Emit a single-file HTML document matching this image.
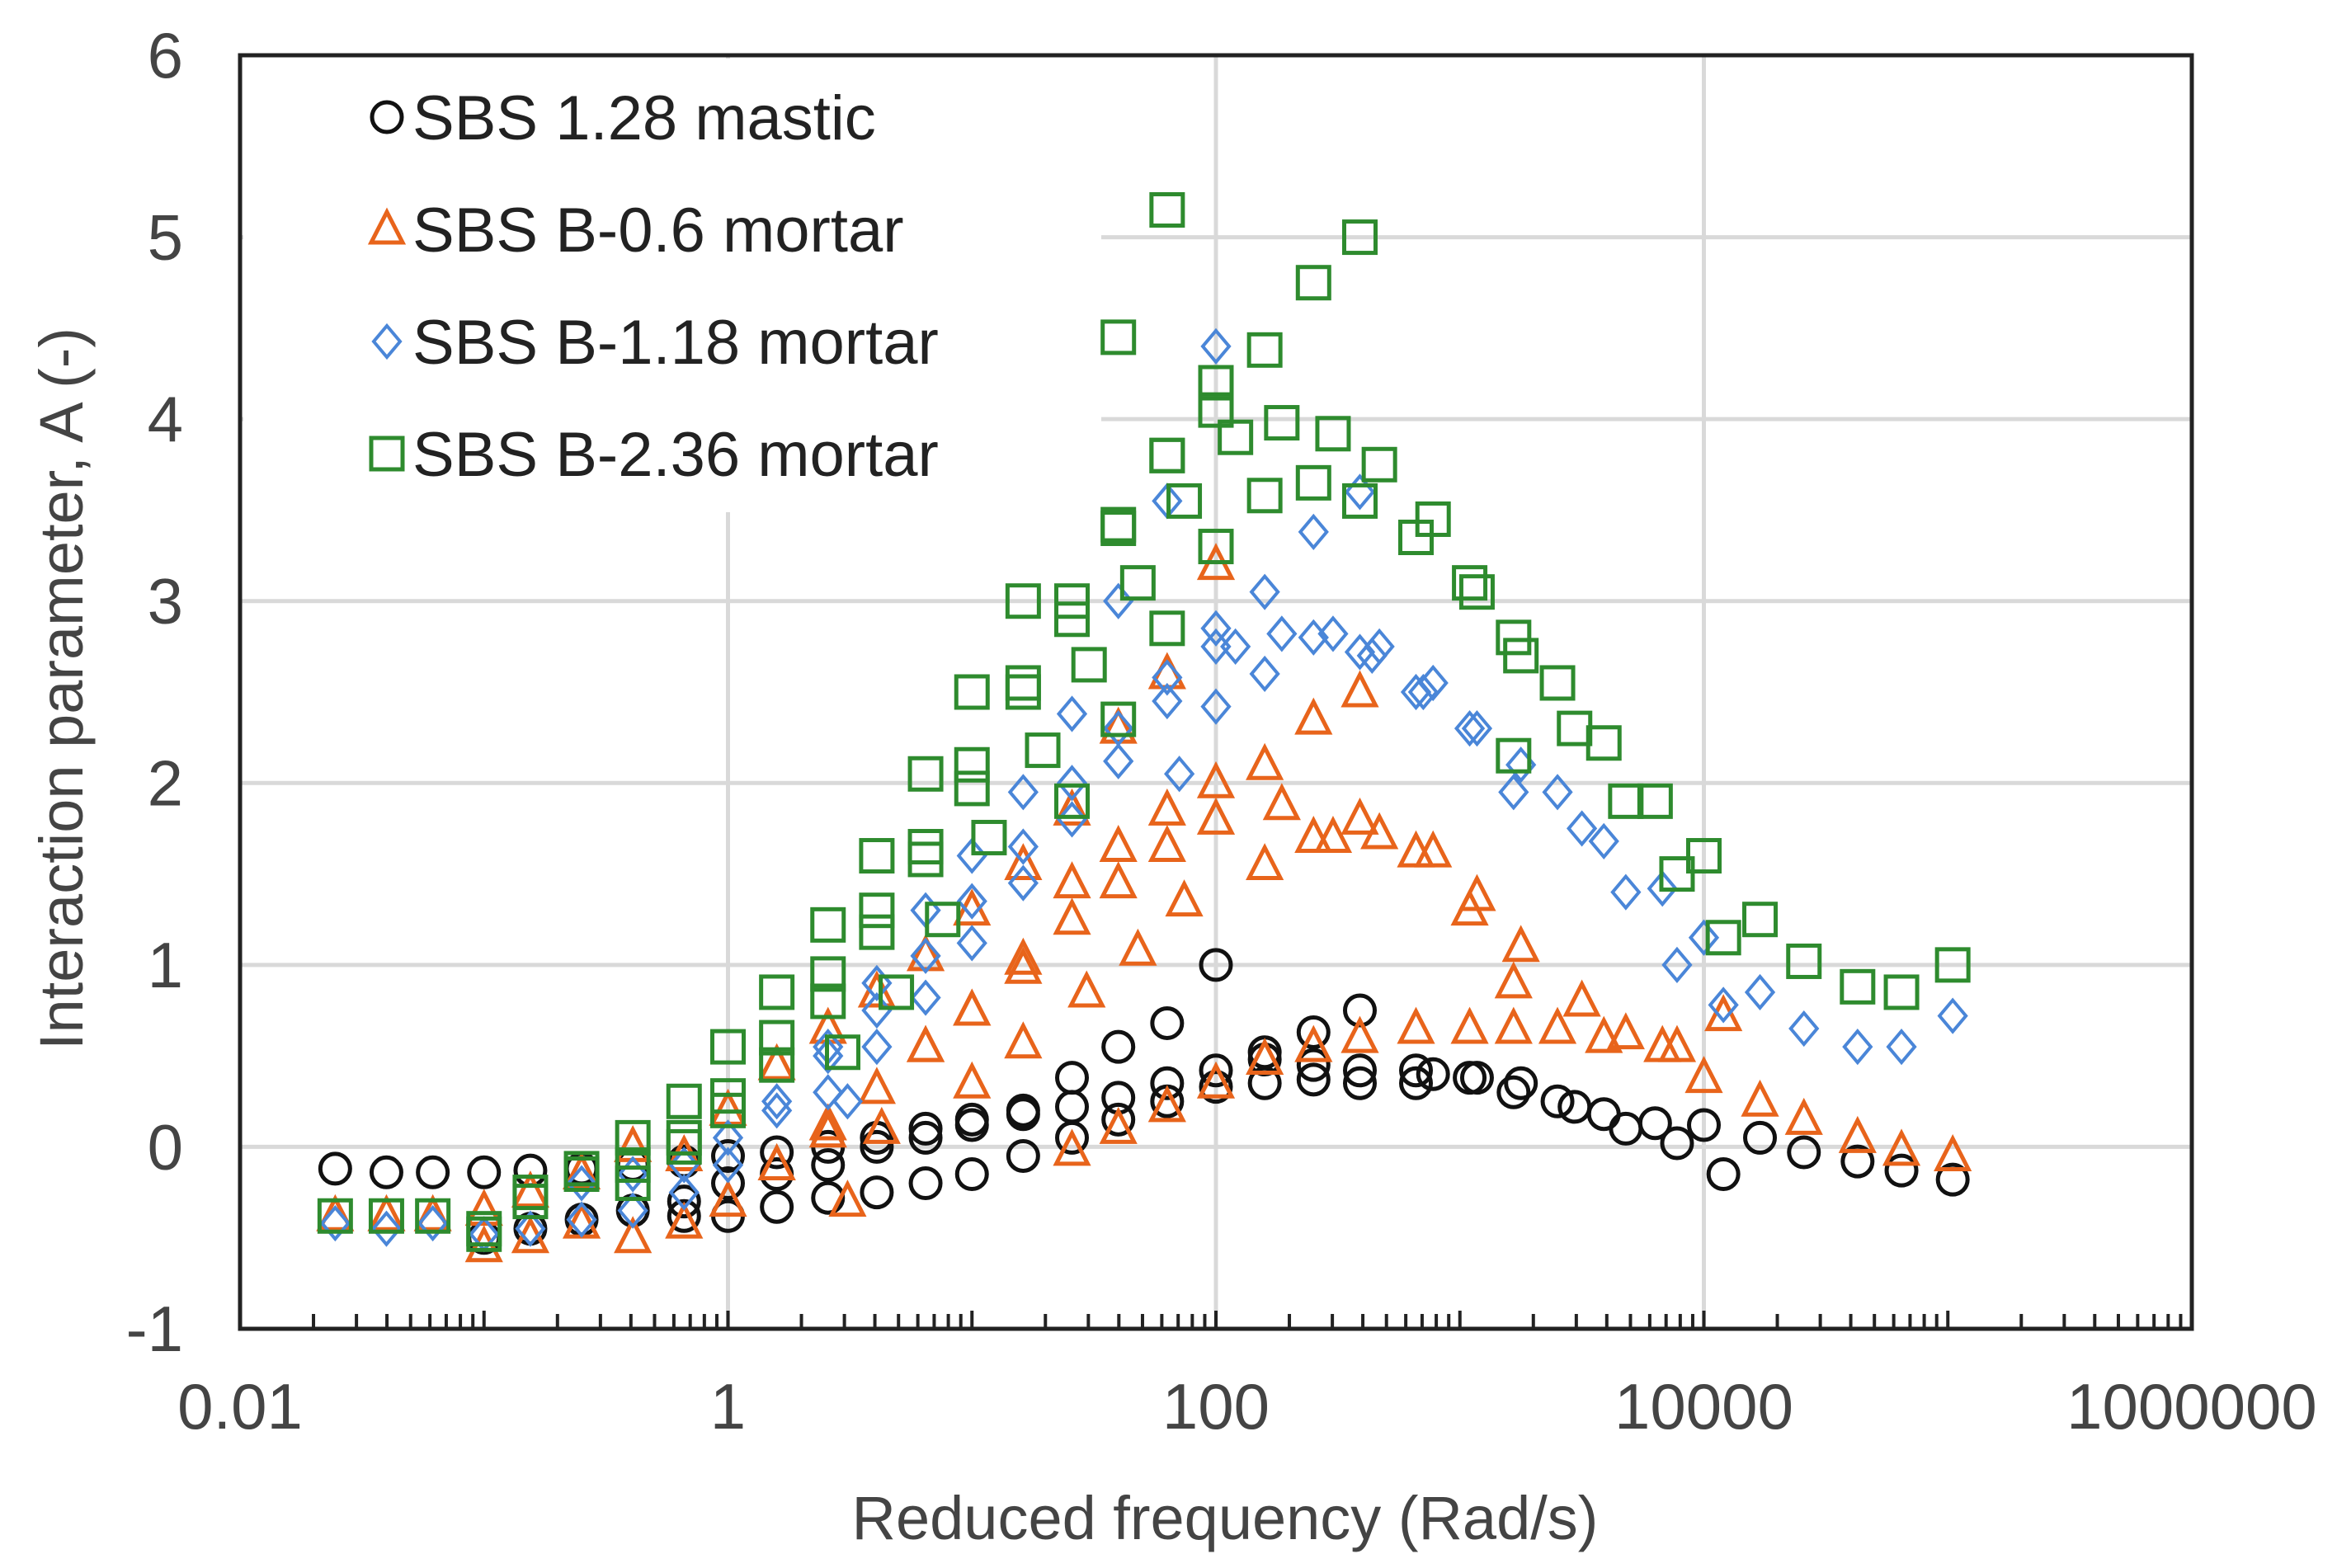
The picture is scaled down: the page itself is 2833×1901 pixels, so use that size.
<!DOCTYPE html>
<html><head><meta charset="utf-8"><style>
html,body{margin:0;padding:0;background:#fff;}
svg{display:block;font-family:"Liberation Sans",sans-serif;}
</style></head><body>
<svg id="chart" width="2833" height="1901" viewBox="0 0 2833 1901" xmlns="http://www.w3.org/2000/svg">
<rect width="2833" height="1901" fill="#fff"/>
<g id="grid"></g>
<g id="marks"></g>
<g id="axes"></g>
<g id="legend"></g>
<text x="1485" y="1866" font-size="74" text-anchor="middle" fill="#444">Reduced frequency (Rad/s)</text>
<text transform="translate(100,835) rotate(-90)" font-size="74" text-anchor="middle" fill="#444">Interaction parameter, A (-)</text>
</svg>
<script>
const xTickLabels = ["0.01","1","100","10000","1000000"];
const xTickLogs = [-2,0,2,4,6];
const yTickValues = [-1,0,1,2,3,4,5,6];
const seriesNames = ["SBS 1.28 mastic","SBS B-0.6 mortar","SBS B-1.18 mortar","SBS B-2.36 mortar"];
// [log10 frequency, A]
const masticPts = [[-1.61,-0.12],[-1.40,-0.14],[-1.21,-0.14],[-1.00,-0.14],[-0.81,-0.13],[-0.60,-0.12],[-0.39,-0.1],[-0.18,-0.08],[0.00,-0.05],[0.20,-0.03],[0.41,0],[0.61,0.05],[0.81,0.1],[1.00,0.15],[1.21,0.2],[1.41,0.38],[1.60,0.55],[1.80,0.68],[2.00,1.0],[2.20,0.52],[2.40,0.63],[2.59,0.75],
[-1.00,-0.5],[-0.81,-0.45],[-0.60,-0.4],[-0.39,-0.35],[-0.18,-0.38],[0.00,-0.38],[0.20,-0.33],[0.41,-0.28],[0.61,-0.25],[0.81,-0.2],[1.00,-0.15],[1.21,-0.05],[1.41,0.05],[1.60,0.15],[1.80,0.25],[2.00,0.33],[2.20,0.35],[2.40,0.37],[2.59,0.35],[2.82,0.35],
[-0.18,-0.3],[0.00,-0.2],[0.20,-0.15],[0.41,-0.1],[0.61,0],[0.81,0.05],[1.00,0.12],[1.21,0.18],[1.41,0.22],[1.60,0.27],[1.80,0.35],[2.00,0.42],[2.20,0.48],[2.40,0.45],[2.59,0.42],[2.82,0.42],[3.04,0.38],[3.22,0.3],[3.40,0.25],[3.59,0.18],[3.80,0.13],[3.89,0.02],[4.00,0.12],[4.08,-0.15],[4.23,0.05],[4.41,-0.03],[4.63,-0.08],[4.81,-0.13],[5.02,-0.18],
[2.89,0.4],[3.07,0.38],[3.25,0.35],[3.47,0.22],[3.68,0.1]];
const mortar06Pts = [[-1.61,-0.38],[-1.40,-0.38],[-1.21,-0.38],[-1.00,-0.55],[-0.81,-0.5],[-0.60,-0.42],[-0.39,-0.5],[-0.18,-0.42],[0.00,-0.3],[0.20,-0.1],[0.41,0.08],[0.61,0.32],[0.81,0.55],[1.00,0.75],[1.21,0.98],[1.41,1.25],[1.60,1.45],[1.80,1.65],[2.00,1.8],[2.20,1.55],[2.40,1.7],[2.59,1.8],[2.67,1.72],
[-1.00,-0.35],[-0.81,-0.25],[-0.60,-0.15],[-0.39,0],[-0.18,-0.05],[0.00,0.2],[0.20,0.45],[0.41,0.65],[0.61,0.85],[0.81,1.05],[1.00,1.3],[1.21,1.55],[1.41,1.85],[1.60,2.3],[1.80,2.6],[2.00,3.2],
[0.20,-0.1],[0.41,0.12],[0.49,-0.3],[0.63,0.1],[0.81,0.55],[1.00,0.75],[1.21,1.03],[1.41,1.45],[1.60,1.65],[1.80,1.85],[2.00,2.0],[2.20,2.1],[2.40,2.35],[2.59,2.5],
[1.00,0.35],[1.21,0.57],[1.41,-0.02],[1.47,0.85],[1.60,0.1],[1.68,1.08],[1.80,0.22],[1.87,1.35],[2.00,0.35],[2.20,0.48],[2.40,0.55],[2.59,0.6],[2.82,0.65],[3.04,0.65],[3.22,0.65],[3.40,0.65],[3.50,0.8],[3.59,0.6],[3.68,0.62],[3.83,0.55],[3.89,0.55],[4.00,0.38],[4.08,0.72],[4.23,0.25],[4.41,0.15],[4.63,0.05],[4.81,-0.02],[5.02,-0.05],
[2.27,1.88],[2.48,1.7],[2.82,1.62],[2.89,1.62],[3.04,1.3],[3.07,1.38],[3.22,0.9],[3.25,1.1]];
const mortar118Pts = [[-1.61,-0.42],[-1.40,-0.45],[-1.21,-0.42],[-1.00,-0.48],[-0.81,-0.45],[-0.60,-0.4],[-0.39,-0.35],[-0.18,-0.25],[0.00,-0.1],[0.20,0.2],[0.41,0.55],[0.61,0.9],[0.81,1.3],[1.00,1.6],[1.21,1.95],[1.41,2.38],[1.60,3.0],[1.80,3.55],[2.00,4.4],
[-0.60,-0.2],[-0.39,-0.15],[-0.18,-0.1],[0.00,0.05],[0.20,0.25],[0.41,0.5],[0.61,0.75],[0.81,1.05],[1.00,1.35],[1.21,1.65],[1.41,2.0],[1.60,2.3],[1.80,2.58],[2.00,2.85],[2.20,3.05],[2.40,3.38],[2.59,3.6],
[0.41,0.3],[0.49,0.25],[0.61,0.55],[0.81,0.82],[1.00,1.12],[1.21,1.45],[1.41,1.8],[1.60,2.12],[1.80,2.45],[2.00,2.75],[2.20,2.6],[2.40,2.8],[2.59,2.72],[2.67,2.75],[2.82,2.5],[2.89,2.55],[3.04,2.3],[3.07,2.3],[3.22,1.95],[3.25,2.1],[3.40,1.95],[3.50,1.75],[3.59,1.68],[3.68,1.4],[3.83,1.42],[3.89,1.0],[4.00,1.15],[4.08,0.78],[4.23,0.85],[4.41,0.65],[4.63,0.55],[4.81,0.55],[5.02,0.72],
[1.85,2.05],[2.00,2.42],[2.08,2.75],[2.27,2.82],[2.48,2.82],[2.64,2.7],[2.85,2.5]];
const mortar236Pts = [[-1.61,-0.38],[-1.40,-0.38],[-1.21,-0.38],[-1.00,-0.48],[-0.81,-0.3],[-0.60,-0.15],[-0.39,0.05],[-0.18,0.25],[0.00,0.55],[0.20,0.85],[0.41,1.22],[0.61,1.6],[0.81,2.05],[1.00,2.5],[1.21,3.0],[1.41,3.0],[1.60,3.4],[1.80,3.8],[2.00,4.2],
[-1.00,-0.45],[-0.81,-0.25],[-0.60,-0.12],[-0.39,-0.1],[-0.18,0.05],[0.00,0.28],[0.20,0.6],[0.41,0.95],[0.61,1.3],[0.81,1.65],[1.00,2.1],[1.21,2.55],[1.41,2.9],[1.60,3.42],[1.80,3.8],[2.00,4.05],[2.20,4.38],[2.40,4.75],[2.59,5.0],
[1.60,4.45],[1.80,5.15],
[-0.39,-0.2],[-0.18,0],[0.00,0.2],[0.20,0.45],[0.41,0.8],[0.47,0.52],[0.61,1.18],[0.69,0.85],[0.81,1.58],[0.88,1.25],[1.00,1.97],[1.07,1.7],[1.21,2.5],[1.29,2.18],[1.41,1.9],[1.48,2.65],[1.60,2.35],[1.68,3.1],[1.80,2.85],[1.87,3.55],[2.00,3.3],[2.08,3.9],[2.20,3.58],[2.27,3.98],[2.40,3.65],[2.48,3.92],[2.59,3.55],[2.67,3.75],[2.82,3.35],[2.89,3.45],[3.04,3.1],[3.07,3.05],[3.22,2.8],[3.25,2.7],[3.40,2.55],[3.47,2.3],[3.59,2.22],[3.68,1.9],[3.80,1.9],[3.89,1.5],[4.00,1.6],[4.08,1.15],[4.23,1.25],[4.41,1.02],[4.63,0.88],[4.81,0.85],[5.02,1.0],[3.22,2.15]];

const NS='http://www.w3.org/2000/svg';
const L=291,R=2657,T=67,B=1611;
const xMinLog=-2,xMaxLog=6,yMin=-1,yMax=6;
function xs(lg){return L+(lg-xMinLog)/(xMaxLog-xMinLog)*(R-L);}
function ys(v){return B-(v-yMin)/(yMax-yMin)*(B-T);}
function mk(tag,attrs,parent){const e=document.createElementNS(NS,tag);for(const k in attrs)e.setAttribute(k,attrs[k]);parent.appendChild(e);return e;}
const grid=document.getElementById('grid'),marks=document.getElementById('marks'),axes=document.getElementById('axes'),legend=document.getElementById('legend');

yTickValues.forEach(v=>{
  if(v>yMin&&v<yMax){const g=mk('line',{x1:L,x2:R,y1:ys(v),y2:ys(v),stroke:'#d9d9d9','stroke-width':5},grid);
  
  }
  const t=mk('text',{x:222,y:ys(v)+27,'font-size':78,'text-anchor':'end',fill:'#444'},axes);
  t.textContent=String(v);
  
  
});
xTickLogs.forEach((lg,i)=>{
  if(lg>xMinLog&&lg<xMaxLog){const g=mk('line',{x1:xs(lg),x2:xs(lg),y1:T,y2:B,stroke:'#d9d9d9','stroke-width':5},grid);
  
  }
  const t=mk('text',{x:xs(lg),y:1732,'font-size':78,'text-anchor':'middle',fill:'#444'},axes);
  t.textContent=xTickLabels[i];
  
  
});
for(let d=xMinLog;d<xMaxLog;d++){for(let m=1;m<10;m++){const lg=d+Math.log10(m);
  const tk=mk('line',{x1:xs(lg),x2:xs(lg),y1:B,y2:B-(m===1?22:18),stroke:'#222','stroke-width':4},axes);
  
  }}
const lb=mk('rect',{x:L+4,y:T+4,width:1040,height:550,fill:'#fff'},grid.parentNode);


grid.parentNode.insertBefore(lb,marks);

function marker(type,x,y,parent){
  let e;
  if(type==='circle'){e=mk('circle',{cx:x,cy:y,r:18,fill:'none',stroke:'#111','stroke-width':5},parent);}
  else if(type==='tri'){e=mk('polygon',{points:`${x},${y-21} ${x-19},${y+16} ${x+19},${y+16}`,fill:'none',stroke:'#e8641b','stroke-width':5},parent);}
  else if(type==='dia'){e=mk('polygon',{points:`${x},${y-19} ${x+16},${y} ${x},${y+19} ${x-16},${y}`,fill:'none',stroke:'#4a86d8','stroke-width':4},parent);}
  else {e=mk('rect',{x:x-19,y:y-19,width:38,height:38,fill:'none',stroke:'#2e8b2e','stroke-width':5},parent);}
  return e;
}
const series=[[masticPts,'circle','mastic-point'],[mortar06Pts,'tri','b06-mortar-point'],[mortar118Pts,'dia','b118-mortar-point'],[mortar236Pts,'sq','b236-mortar-point']];
series.forEach(([pts,type,name])=>{pts.forEach(p=>{const e=marker(type,xs(p[0]),ys(p[1]),marks);
  
  });});

const frame=mk('rect',{x:L,y:T,width:R-L,height:B-T,fill:'none',stroke:'#222','stroke-width':5},axes);



const types=['circle','tri','dia','sq'];
seriesNames.forEach((n,i)=>{const y=142+i*136;
  const m=marker(types[i],469,y,legend);
  
  
  const t=mk('text',{x:500,y:y+27,'font-size':76,fill:'#222'},legend);
  t.textContent=n;
  
  
});
</script>
</body></html>
